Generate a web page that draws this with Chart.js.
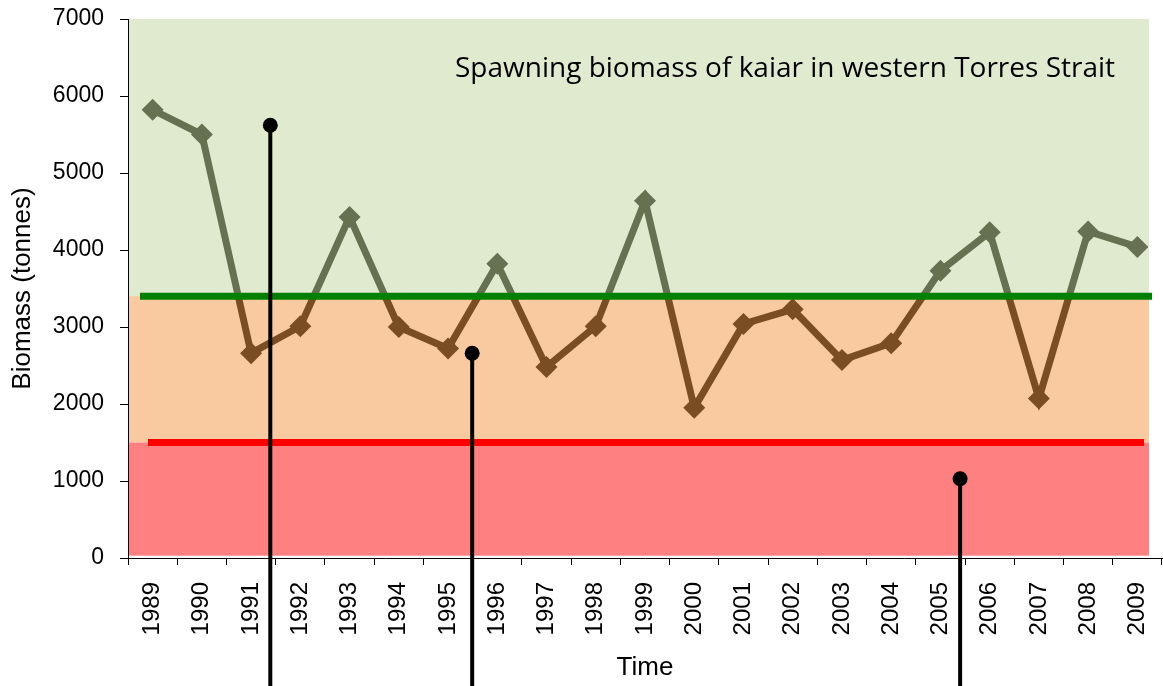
<!DOCTYPE html>
<html>
<head>
<meta charset="utf-8">
<script src="https://cdn.jsdelivr.net/npm/chart.js@4.4.1/dist/chart.umd.min.js"></script>
<style>
  html, body { margin: 0; padding: 0; background: #fff; overflow: hidden; }
  #wrap { width: 1163px; height: 686px; }
</style>
</head>
<body>
<div id="wrap"><canvas id="biomassChart"></canvas></div>
<script>
// Spawning biomass series (tonnes)
const years = ['1989', '1990', '1991', '1992', '1993', '1994', '1995', '1996', '1997', '1998', '1999',
               '2000', '2001', '2002', '2003', '2004', '2005', '2006', '2007', '2008', '2009'];
const biomass = [5820, 5500, 2660, 3010, 4430, 3000, 2720, 3820, 2480, 3010, 4640,
                 1950, 3040, 3230, 2570, 2790, 3730, 4230, 2070, 4240, 4040];

// reference levels
const targetLevel = 3400;
const limitLevel = 1500;
const yMax = 7000;

// pin markers (x in category index units, y in tonnes)
const pinX = [2.39, 6.49, 16.40];
const pinY = [5620, 2660, 1030];

const chartTitle = 'Spawning biomass of kaiar in western Torres Strait';

const aboveColor = '#657151';
const belowColor = '#7a4d23';

function lineGradient(chart) {
    const area = chart.chartArea;
    if (!area) return aboveColor;
    const y = chart.scales.y;
    const g = chart.ctx.createLinearGradient(0, area.top, 0, area.bottom);
    const stop = (y.getPixelForValue(targetLevel) - area.top) / (area.bottom - area.top);
    g.addColorStop(0, aboveColor);
    g.addColorStop(stop, aboveColor);
    g.addColorStop(stop, belowColor);
    g.addColorStop(1, belowColor);
    return g;
}

const bandsPlugin = {
    id: 'bands',
    beforeDatasetsDraw(chart) {
        const { ctx, chartArea: a, scales: { y } } = chart;
        const left = a.left + 1, right = a.right - 13;
        const band = (from, to, color) => {
            const top = y.getPixelForValue(to), bot = y.getPixelForValue(from);
            ctx.fillStyle = color;
            ctx.fillRect(left, top, right - left, bot - top);
        };
        ctx.save();
        band(targetLevel, yMax, '#e0eacf');
        band(limitLevel, targetLevel, '#f9c9a0');
        band(30, limitLevel, '#ff8080');
        ctx.restore();
    }
};

const overlayPlugin = {
    id: 'overlay',
    afterDatasetsDraw(chart) {
        const { ctx, chartArea: a, scales: { x, y } } = chart;
        ctx.save();
        // reference lines
        ctx.lineWidth = 7;
        ctx.strokeStyle = '#008000';
        ctx.beginPath();
        ctx.moveTo(a.left + 12, y.getPixelForValue(targetLevel));
        ctx.lineTo(a.right - 10, y.getPixelForValue(targetLevel));
        ctx.stroke();
        ctx.strokeStyle = '#ff0000';
        ctx.beginPath();
        ctx.moveTo(a.left + 20, y.getPixelForValue(limitLevel));
        ctx.lineTo(a.right - 18, y.getPixelForValue(limitLevel));
        ctx.stroke();

        // pins
        ctx.strokeStyle = '#000';
        ctx.fillStyle = '#000';
        ctx.lineWidth = 4;
        pinX.forEach((v, i) => {
            const px = x.getPixelForValue(v);
            const py = y.getPixelForValue(pinY[i]);
            ctx.beginPath();
            ctx.moveTo(px, py);
            ctx.lineTo(px, chart.height);
            ctx.stroke();
            ctx.beginPath();
            ctx.arc(px, py, 7.5, 0, Math.PI * 2);
            ctx.fill();
        });

        // title inside plot
        ctx.font = '28px "Open Sans"';
        ctx.textBaseline = 'alphabetic';
        ctx.textAlign = 'left';
        ctx.fillStyle = '#000';
        ctx.fillText(chartTitle, a.left + 327, a.top + 58);
        ctx.restore();
    }
};

const ctx = document.getElementById('biomassChart').getContext('2d');
new Chart(ctx, {
    type: 'line',
    data: {
        labels: years,
        datasets: [{
            label: 'Biomass',
            data: biomass,
            borderColor: (c) => lineGradient(c.chart),
            borderWidth: 7,
            tension: 0,
            fill: false,
            pointStyle: 'rectRot',
            pointRadius: 11,
            pointBorderWidth: 0,
            pointBackgroundColor: (c) => (c.raw > targetLevel ? aboveColor : belowColor),
            pointBorderColor: (c) => (c.raw > targetLevel ? aboveColor : belowColor)
        }]
    },
    options: {
        responsive: true,
        maintainAspectRatio: false,
        animation: false,
        layout: {
            autoPadding: false,
            padding: { top: 19, right: 1, left: 0, bottom: 0 }
        },
        plugins: {
            legend: { display: false },
            tooltip: { enabled: false }
        },
        scales: {
            x: {
                offset: true,
                afterFit: (s) => {
                    s.height = 128;
                    s.paddingLeft = 0;
                    s.paddingRight = 0;
                },
                grid: {
                    offset: true,
                    drawOnChartArea: false,
                    color: '#000',
                    tickLength: 7
                },
                border: { color: '#000', width: 1 },
                ticks: {
                    minRotation: 90,
                    maxRotation: 90,
                    padding: 17,
                    color: '#000',
                    font: { family: 'Liberation Sans, Arial', size: 24 }
                },
                title: {
                    display: true,
                    text: 'Time',
                    color: '#000',
                    padding: { top: 0, bottom: 3 },
                    font: { family: 'Liberation Sans, Arial', size: 26 }
                }
            },
            y: {
                min: 0,
                max: yMax,
                afterFit: (s) => {
                    s.width = 128;
                    s.paddingTop = 0;
                    s.paddingBottom = 0;
                },
                grid: {
                    drawOnChartArea: false,
                    color: '#000',
                    tickLength: 8
                },
                border: { color: '#000', width: 1 },
                ticks: {
                    stepSize: 1000,
                    padding: 16,
                    color: '#000',
                    font: { family: 'Liberation Sans, Arial', size: 23 },
                    callback: (v) => String(v)
                },
                title: {
                    display: true,
                    text: 'Biomass (tonnes)',
                    color: '#000',
                    padding: { top: 7, bottom: 0 },
                    font: { family: 'Liberation Sans, Arial', size: 26 }
                }
            }
        }
    },
    plugins: [bandsPlugin, overlayPlugin]
});
</script>
</body>
</html>
